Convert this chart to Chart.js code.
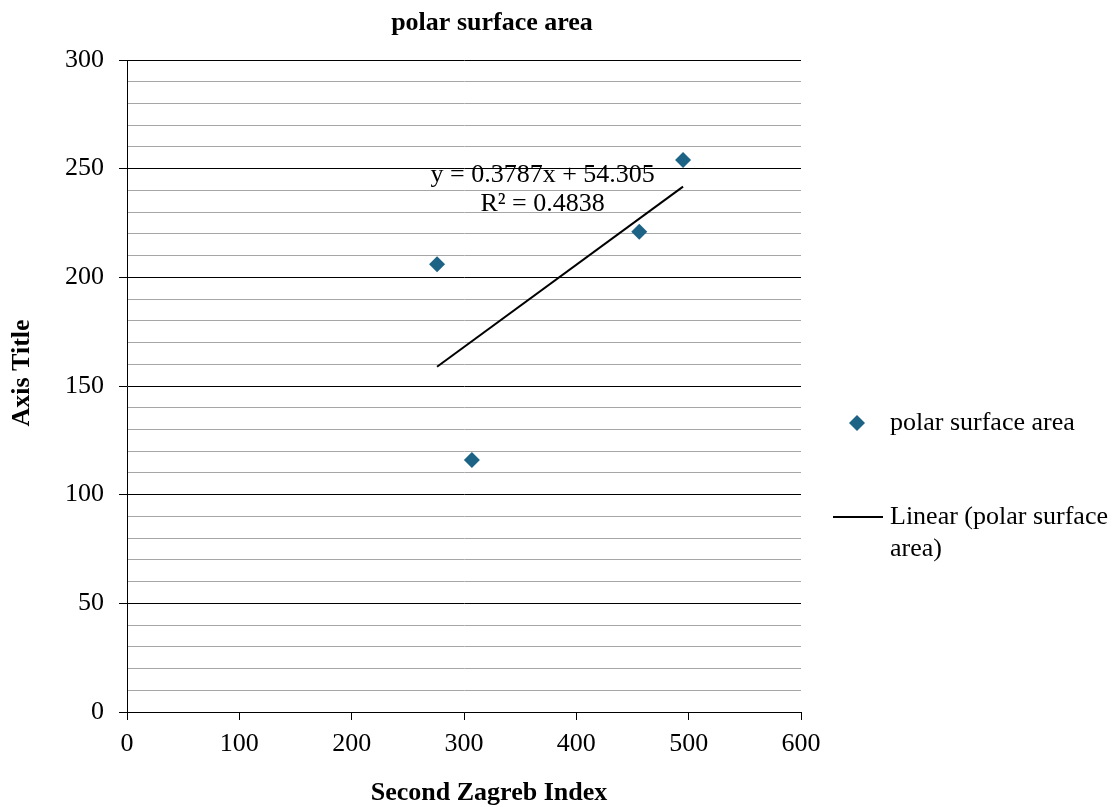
<!DOCTYPE html>
<html><head><meta charset="utf-8">
<script src="https://cdn.jsdelivr.net/npm/chart.js@4/dist/chart.umd.min.js"></script>
<style>html,body{margin:0;padding:0;background:#fff;}#wrap{width:1116px;height:807px;}</style>
</head><body><div id="wrap"><canvas id="c" width="1116" height="807"></canvas></div>
<script>
const xValues = [276, 307, 456, 495];
const yValues = [206, 116, 221, 254];
const trendSlope = 0.3787;
const trendIntercept = 54.305;
const seriesName = 'polar surface area';
const trendName = 'Linear (polar surface area)';
const equationText = 'y = 0.3787x + 54.305';
const r2Text = 'R² = 0.4838';
const chartTitle = 'polar surface area';
const xTitle = 'Second Zagreb Index';
const yTitle = 'Axis Title';

const FONT = '"Liberation Serif", "Times New Roman", serif';
const markerColor = '#1c6386';

const points = xValues.map((x, i) => ({x, y: yValues[i]}));
const xMin = Math.min(...xValues), xMax = Math.max(...xValues);
const trend = [xMin, xMax].map(x => ({x, y: trendSlope * x + trendIntercept}));

const textPlugin = {
  id: 'texts',
  afterDraw(chart) {
    const ctx = chart.ctx;
    const ca = chart.chartArea;
    const xs = chart.scales.x, ys = chart.scales.y;
    ctx.save();
    ctx.fillStyle = '#000';
    ctx.textAlign = 'center';
    ctx.textBaseline = 'middle';
    ctx.font = 'bold 26px ' + FONT;
    ctx.fillText(chartTitle, 492, 23);
    ctx.fillText(xTitle, (ca.left + ca.right) / 2 + 25, 793);
    ctx.save();
    ctx.translate(22, 373);
    ctx.rotate(-Math.PI / 2);
    ctx.fillText(yTitle, 0, 0);
    ctx.restore();
    // equation
    ctx.font = '26px ' + FONT;
    ctx.fillText(equationText, xs.getPixelForValue(370), ys.getPixelForValue(247));
    ctx.fillText(r2Text, xs.getPixelForValue(370), ys.getPixelForValue(233.5));
    // legend
    ctx.textAlign = 'left';
    const ly1 = 423;
    ctx.fillStyle = markerColor;
    ctx.beginPath();
    ctx.moveTo(857, ly1 - 8); ctx.lineTo(865, ly1); ctx.lineTo(857, ly1 + 8); ctx.lineTo(849, ly1);
    ctx.closePath(); ctx.fill();
    ctx.fillStyle = '#000';
    ctx.fillText(seriesName, 890, ly1);
    const ly2 = 517;
    ctx.strokeStyle = '#000'; ctx.lineWidth = 2;
    ctx.beginPath(); ctx.moveTo(833, ly2); ctx.lineTo(883, ly2); ctx.stroke();
    ctx.fillText('Linear (polar surface', 890, ly2);
    ctx.fillText('area)', 890, ly2 + 32);
    ctx.restore();
  }
};

new Chart(document.getElementById('c'), {
  type: 'scatter',
  data: {
    datasets: [
      {
        label: trendName,
        data: trend,
        type: 'line',
        borderColor: '#000',
        borderWidth: 2,
        pointRadius: 0,
        fill: false,
        order: 2
      },
      {
        label: seriesName,
        data: points,
        pointStyle: 'rectRot',
        pointRadius: 8,
        pointHoverRadius: 8,
        backgroundColor: markerColor,
        borderColor: markerColor,
        borderWidth: 0,
        order: 1
      }
    ]
  },
  options: {
    responsive: false,
    animation: false,
    events: [],
    layout: { padding: { left: 0, right: 315, top: 60, bottom: 0 } },
    plugins: { legend: { display: false }, title: { display: false }, tooltip: { enabled: false } },
    scales: {
      x: {
        type: 'linear', min: 0, max: 600,
        ticks: { stepSize: 100, color: '#000', font: { family: FONT, size: 26 }, padding: 9, maxRotation: 0 },
        grid: { drawOnChartArea: false, drawTicks: true, tickLength: 8, tickColor: '#000', tickWidth: 1 },
        border: { display: true, color: '#000', width: 1 },
        afterFit(s) { s.height = 95; }
      },
      y: {
        type: 'linear', min: 0, max: 300,
        ticks: {
          stepSize: 10, color: '#000', font: { family: FONT, size: 26 }, padding: 15,
          autoSkip: false,
          callback: v => (v % 50 === 0 ? String(v) : '')
        },
        grid: {
          color: c => (c.tick && c.tick.value % 50 === 0 ? '#000' : '#a6a6a6'),
          lineWidth: 1,
          tickLength: 8,
          tickColor: c => (c.tick && c.tick.value % 50 === 0 ? '#000' : 'rgba(0,0,0,0)')
        },
        border: { display: true, color: '#000', width: 1 },
        afterFit(s) { s.width = 127; }
      }
    }
  },
  plugins: [textPlugin]
});
</script>
</body></html>
